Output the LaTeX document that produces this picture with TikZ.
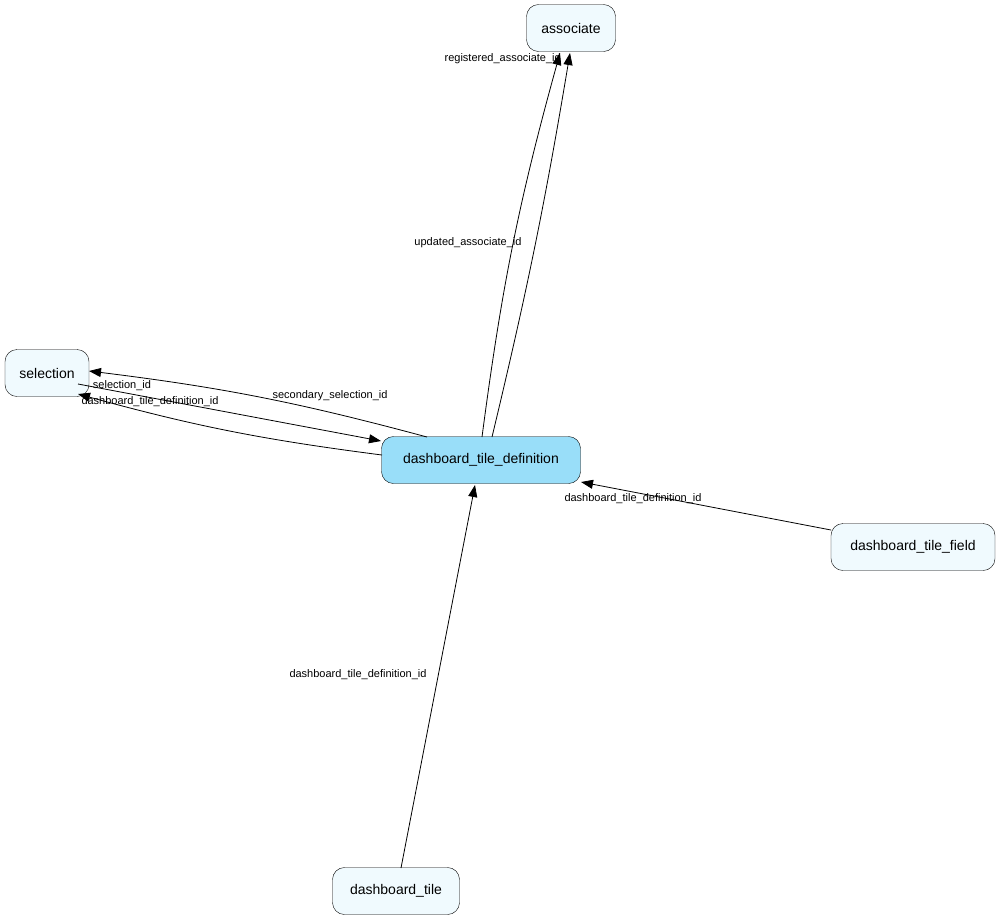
\documentclass[tikz,border=0pt]{standalone}
\usepackage{fontspec}
\setmainfont{Liberation Sans}
\usetikzlibrary{arrows.meta}
\begin{document}
\begin{tikzpicture}[x=1pt,y=-1pt,
  ent/.style={draw,rounded corners=12pt,fill=cyan!6,minimum height=47pt,font=\fontsize{14}{16}\selectfont,inner sep=0pt},
  lbl/.style={font=\fontsize{11}{12}\selectfont,inner sep=1pt},
  fk/.style={-{Triangle[length=12pt,width=9pt]},line width=0.8pt}]
\useasboundingbox (0,0) rectangle (1000,922);
\node[ent,minimum width=89pt] (assoc) at (571,28) {associate};
\node[ent,minimum width=84pt] (sel) at (47,373) {selection};
\node[ent,minimum width=199pt,fill=cyan!40] (dtd) at (481,460) {dashboard\_tile\_definition};
\node[ent,minimum width=164pt] (dtf) at (913,547) {dashboard\_tile\_field};
\node[ent,minimum width=127pt] (dt) at (396,891) {dashboard\_tile};
\coordinate (a1) at (482,437); \coordinate (a2) at (492,437);
\coordinate (t1) at (560,53); \coordinate (t2) at (570,53);
\draw[fk] (a1) to[bend left=4] (t1);
\draw[fk] (a2) to[bend right=2] (t2);
\node[lbl,anchor=east] (l1) at (562,59) {registered\_associate\_id};
\node[lbl] (l2) at (468,243) {updated\_associate\_id};
\coordinate (s1) at (427,437); \coordinate (s1e) at (89,371);
\draw[fk] (s1) to[bend right=4] (s1e);
\node[lbl] (l3) at (330,396) {secondary\_selection\_id};
\coordinate (s2) at (78,384); \coordinate (s2e) at (381,441);
\draw[fk] (s2) to[bend left=0] (s2e);
\node[lbl] (l4) at (122,386) {selection\_id};
\coordinate (s3) at (382,455); \coordinate (s3e) at (78,394);
\draw[fk] (s3) to[bend left=4] (s3e);
\node[lbl] (l5) at (150,402) {dashboard\_tile\_definition\_id};
\coordinate (f1) at (831,530); \coordinate (f1e) at (581,482);
\draw[fk] (f1) -- (f1e);
\node[lbl] (l6) at (633,499) {dashboard\_tile\_definition\_id};
\coordinate (d1) at (401,868); \coordinate (d1e) at (475,485);
\draw[fk] (d1) -- (d1e);
\node[lbl] (l7) at (358,675) {dashboard\_tile\_definition\_id};
\end{tikzpicture}
\end{document}
